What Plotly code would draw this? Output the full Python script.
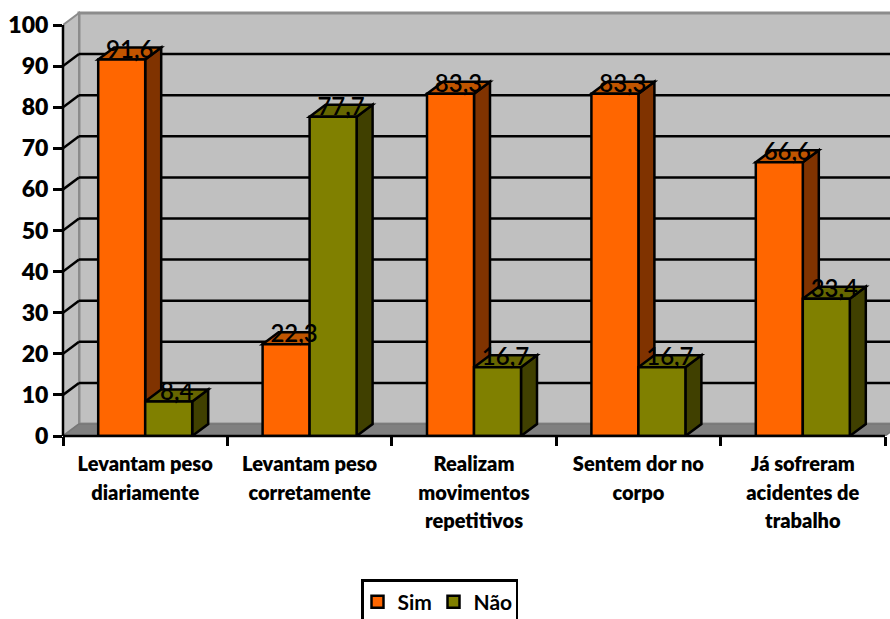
import plotly.graph_objects as go

categories = [
    ["Levantam peso", "diariamente"],
    ["Levantam peso", "corretamente"],
    ["Realizam", "movimentos", "repetitivos"],
    ["Sentem dor no", "corpo"],
    ["Já sofreram", "acidentes de", "trabalho"],
]
sim_values = [91.6, 22.3, 83.3, 83.3, 66.6]
nao_values = [8.4, 77.7, 16.7, 16.7, 33.4]
y_ticks = list(range(0, 101, 10))

# Pixel layout of the chart frame
WIDTH, HEIGHT = 890, 619
LEFT, TOP, BASE = 63, 8, 436
CAT_PX, UNIT_PX = 164.4, 4.11
DX, DY = 16 / CAT_PX, 12 / UNIT_PX  # oblique depth in axis units
X0 = -0.5
X_MAX = X0 + (WIDTH - LEFT) / CAT_PX
Y_MAX = (BASE - TOP) / UNIT_PX
X_END = X0 + len(categories)
BAR_W = 47 / CAT_PX
EDGE = 2.5

ORANGE, ORANGE_SIDE, ORANGE_TOP = "#FF6600", "#803300", "#C05500"
OLIVE, OLIVE_SIDE, OLIVE_TOP = "#808000", "#404000", "#666600"
WALL, FLOOR, RIM = "#C0C0C0", "#808080", "#8C8C8C"


def polygon(points, fill, line_color="black", width=EDGE, layer="below"):
    path = "M" + " L".join(f"{x:.4f},{y:.4f}" for x, y in points) + " Z"
    return dict(type="path", path=path, xref="x", yref="y", layer=layer,
                fillcolor=fill, line=dict(color=line_color, width=width))


def segment(x0, y0, x1, y1, color="black", width=EDGE, layer="below"):
    return dict(type="line", x0=x0, y0=y0, x1=x1, y1=y1, xref="x", yref="y",
                layer=layer, line=dict(color=color, width=width))


shapes = [
    # back wall, side wall and floor
    polygon([(X0 + DX, DY), (X_MAX + 1, DY), (X_MAX + 1, 100 + DY), (X0 + DX, 100 + DY)], WALL, RIM, 3),
    polygon([(X0, 0), (X0 + DX, DY), (X0 + DX, 100 + DY), (X0, 100)], WALL, RIM, 2),
    polygon([(X0, 0), (X0 + DX, DY), (X_END + DX, DY), (X_END, 0)], FLOOR, "#777777", 1.5),
]
for v in y_ticks[1:-1]:
    shapes.append(segment(X0, v, X0 + DX, v + DY))
    shapes.append(segment(X0 + DX, v + DY, X_MAX + 1, v + DY))

# Oblique side and top faces sit under the front faces of the bars
for values, offset, side, top in (
    (sim_values, -BAR_W, ORANGE_SIDE, ORANGE_TOP),
    (nao_values, 0, OLIVE_SIDE, OLIVE_TOP),
):
    for i, v in enumerate(values):
        left, right = i + offset, i + offset + BAR_W
        shapes.append(polygon([(right, 0), (right + DX, DY), (right + DX, v + DY), (right, v)], side))
        shapes.append(polygon([(left, v), (right, v), (right + DX, v + DY), (left + DX, v + DY)], top))

# Axis lines, unclipped across the plot edge
shapes.append(dict(type="line", xref="paper", yref="y", x0=0, x1=0, y0=0, y1=100,
                   layer="above", line=dict(color="black", width=EDGE)))
shapes.append(dict(type="line", xref="x", yref="paper", x0=X0, x1=X_END, y0=0, y1=0,
                   layer="above", line=dict(color="black", width=EDGE)))

x_positions = list(range(len(categories)))
fig = go.Figure()
for name, values, color in (("Sim", sim_values, ORANGE), ("Não", nao_values, OLIVE)):
    fig.add_trace(go.Bar(name=name, x=x_positions, y=values, width=BAR_W,
                         marker=dict(color=color, line=dict(color="black", width=EDGE)),
                         hoverinfo="x+y"))

# Value labels float over the top face of each bar
for values, offset in ((sim_values, -BAR_W / 2), (nao_values, BAR_W / 2)):
    fig.add_trace(go.Scatter(
        x=[i + offset + DX / 2 for i in x_positions],
        y=[v + DY - 1 for v in values],
        text=[f"{v:.1f}".replace(".", ",") for v in values],
        mode="text", textposition="middle center", showlegend=False, hoverinfo="skip",
        textfont=dict(family="Lato", size=24, weight=600, color="black"),
    ))

tick_text = ["<br>".join(f"<span style='font-size:20px'>{part}</span>" for part in parts)
             for parts in categories]

fig.update_layout(
    width=WIDTH, height=HEIGHT,
    margin=dict(l=LEFT, r=0, t=TOP, b=HEIGHT - BASE, pad=0, autoexpand=False),
    paper_bgcolor="white", plot_bgcolor="white",
    barmode="group", bargap=1 - 2 * BAR_W, bargroupgap=0,
    shapes=shapes,
    font=dict(family="Lato", color="black"),
    showlegend=True,
    legend=dict(orientation="h", x=(361 - LEFT) / (WIDTH - LEFT), xanchor="left",
                y=(BASE - 579) / (BASE - TOP), yanchor="top",
                bordercolor="black", borderwidth=2.5, bgcolor="white",
                font=dict(family="Lato", size=21, weight="bold", color="black"),
                itemwidth=30, entrywidth=37, entrywidthmode="pixels", indentation=-6,
                traceorder="normal"),
    xaxis=dict(range=[X0, X_MAX], showgrid=False, zeroline=False, showline=False,
               tickmode="array", tickvals=x_positions, ticktext=tick_text, ticks="",
               ticklabelstandoff=12,
               tickfont=dict(family="Lato", size=22, weight=800, color="black"),
               minor=dict(tickmode="array", tickvals=[X0 + i for i in range(len(categories) + 1)],
                          ticks="outside", ticklen=9, tickwidth=EDGE, tickcolor="black", showgrid=False)),
    yaxis=dict(range=[0, Y_MAX], showgrid=False, zeroline=False, showline=False,
               tickmode="array", tickvals=y_ticks, ticks="outside", ticklen=9,
               tickwidth=EDGE, tickcolor="black",
               tickfont=dict(family="Lato", size=23, weight=800, color="black")),
)

fig.write_html("out.html")
